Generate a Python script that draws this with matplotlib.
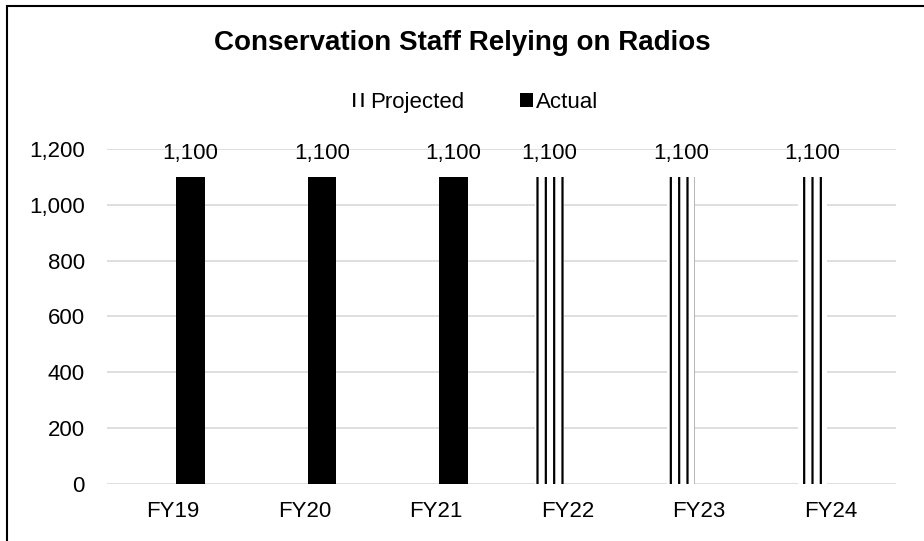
import matplotlib
matplotlib.use("Agg")
import matplotlib.pyplot as plt
import matplotlib.patches as mpatches
import numpy as np

plt.rcParams['font.family'] = ['Liberation Sans', 'DejaVu Sans']
plt.rcParams['hatch.linewidth'] = 1.6

# data
years = ["FY19", "FY20", "FY21", "FY22", "FY23", "FY24"]
projected = [0, 0, 0, 1100, 1100, 1100]
actual = [1100, 1100, 1100, 0, 0, 0]
y_ticks = [0, 200, 400, 600, 800, 1000, 1200]

fig = plt.figure(figsize=(9.24, 5.41), dpi=100)
ax = fig.add_axes([0.1158, 0.1054, 0.8539, 0.6192])

x = np.arange(len(years))
w = 0.22
off = 0.135
b_proj = ax.bar(x - off, projected, w, color="white", edgecolor="black",
                hatch="||", linewidth=0, label="Projected")
b_act = ax.bar(x + off, actual, w, color="black", linewidth=0, label="Actual")

# only show labels where there's a bar
ax.bar_label(b_proj, labels=[f"{v:,}" if v else "" for v in projected],
             padding=9, fontsize=16)
ax.bar_label(b_act, labels=[f"{v:,}" if v else "" for v in actual],
             padding=9, fontsize=16)

ax.set_xlim(-0.5, len(years) - 0.5)
ax.set_ylim(0, 1200)
ax.set_xticks(x)
ax.set_xticklabels(years)
ax.set_yticks(y_ticks)
ax.set_yticklabels([f"{v:,}" for v in y_ticks])
ax.tick_params(axis="both", length=0, labelsize=16)
ax.tick_params(axis="y", pad=16)
ax.tick_params(axis="x", pad=12)
ax.grid(axis="y", color="#d9d9d9", linewidth=1.2)
ax.set_axisbelow(True)
for s in ax.spines.values():
    s.set_visible(False)

fig.text(0.5, 0.92, "Conservation Staff Relying on Radios", ha="center",
         va="center", fontsize=20, fontweight="bold")

fig.legend(handles=[b_proj, b_act], loc="center", bbox_to_anchor=(0.515, 0.811),
           ncol=2, frameon=False, fontsize=16, handlelength=0.6,
           handleheight=0.6, handletextpad=0.15, columnspacing=2.5)

# chart border (right/bottom edges are cut off in the original)
fig.add_artist(mpatches.Rectangle((0.0076, -0.1), 1.5, 1.088,
                                  transform=fig.transFigure, fill=False,
                                  edgecolor="black", linewidth=1.5))

fig.savefig("out.png", dpi=100)
